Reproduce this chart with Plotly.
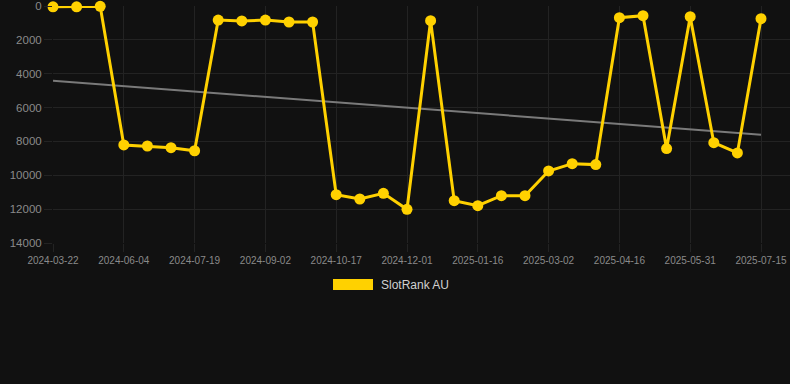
import plotly.graph_objects as go

dates = [
    "2024-03-22", "2024-04-20", "2024-05-20", "2024-06-04", "2024-06-19",
    "2024-07-04", "2024-07-19", "2024-08-03", "2024-08-18", "2024-09-02",
    "2024-09-17", "2024-10-02", "2024-10-17", "2024-11-01", "2024-11-16",
    "2024-12-01", "2024-12-16", "2024-12-31", "2025-01-16", "2025-01-31",
    "2025-02-15", "2025-03-02", "2025-03-17", "2025-04-01", "2025-04-16",
    "2025-05-01", "2025-05-16", "2025-05-31", "2025-06-15", "2025-06-30",
    "2025-07-15",
]
ranks = [
    50, 50, 20, 8210, 8270, 8370, 8550, 830, 885, 830,
    945, 945, 11145, 11400, 11065, 12010, 865, 11500, 11795, 11205,
    11205, 9745, 9315, 9370, 690, 570, 8425, 630, 8075, 8680,
    750,
]
trend_x = [dates[0], dates[-1]]
trend_y = [4420, 7600]
tick_labels = dates[::3]
y_ticks = [0, 2000, 4000, 6000, 8000, 10000, 12000, 14000]
series_name = "SlotRank AU"

BG = "#111111"
GRID = "#232323"
YELLOW = "#FFD100"

fig = go.Figure()
fig.add_trace(go.Scatter(
    x=trend_x, y=trend_y, mode="lines",
    line=dict(color="#7a7a7a", width=2),
    showlegend=False, hoverinfo="skip",
))
fig.add_trace(go.Scatter(
    x=dates, y=ranks, mode="lines+markers", name=series_name,
    line=dict(color=YELLOW, width=3),
    marker=dict(color=YELLOW, size=11),
    cliponaxis=False,
    showlegend=False,
))

n = len(dates)
fig.update_layout(
    width=790, height=384,
    margin=dict(l=53, r=0, t=6, b=141),
    paper_bgcolor=BG, plot_bgcolor=BG,
    font=dict(family="Liberation Sans, Arial, sans-serif", color="#8a8a8a"),
    xaxis=dict(
        type="category", categoryorder="array", categoryarray=dates,
        range=[0, (n - 1) + 29 / 23.6],
        tickmode="array", tickvals=tick_labels, ticktext=tick_labels,
        tickfont=dict(size=10, color="#8a8a8a"),
        showgrid=True, gridcolor=GRID, gridwidth=1,
        ticks="outside", ticklen=8, tickcolor=GRID,
        zeroline=False, showline=False,
    ),
    yaxis=dict(
        range=[14000, 0], tickvals=y_ticks, tickformat="d",
        tickfont=dict(size=11.5, color="#8a8a8a"),
        showgrid=True, gridcolor=GRID, gridwidth=1,
        ticks="outside", ticklen=8, tickcolor=GRID,
        zeroline=False, showline=False,
    ),
    showlegend=False,
    shapes=[dict(
        type="rect", xref="paper", yref="paper",
        x0=(333 - 53) / 737, x1=(373 - 53) / 737,
        y0=-(279 - 243) / 237, y1=-(290 - 243) / 237,
        fillcolor=YELLOW, line=dict(width=0),
    )],
    annotations=[dict(
        text=series_name, xref="paper", yref="paper",
        x=(379 - 53) / 737, y=-(284.5 - 243) / 237,
        xanchor="left", yanchor="middle", showarrow=False,
        font=dict(size=12, color="#d0d0d0"),
    )],
)

fig.write_html(
    "out.html",
    config={"displayModeBar": False},
    post_script="document.body.style.margin='0';document.body.style.background='#111111';",
)
